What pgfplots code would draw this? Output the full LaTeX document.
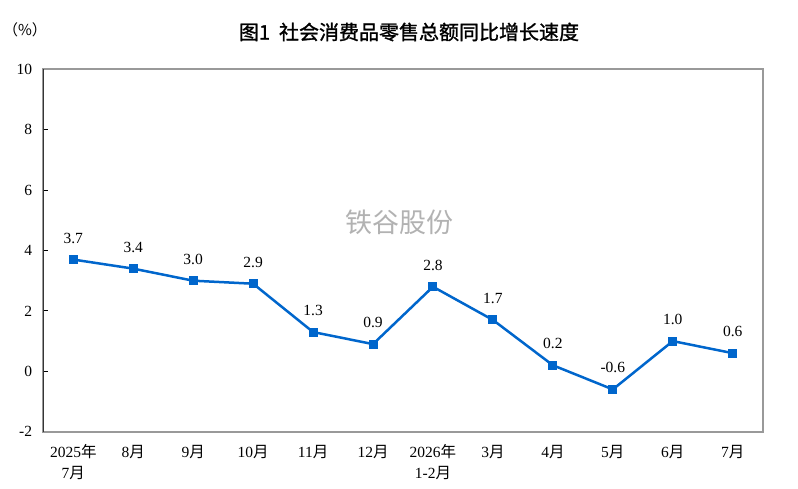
\documentclass[border=0pt]{standalone}
\usepackage{fontspec}
\setmainfont{Liberation Serif}
\newfontfamily\cjk{Noto Sans CJK SC}
\newfontfamily\cjktitle[FakeBold=1.3]{Noto Sans CJK SC}
\usepackage{pgfplots}
\pgfplotsset{compat=1.18}
\definecolor{lineblue}{HTML}{0066CC}
\definecolor{framegray}{HTML}{999999}
\newcommand\nian{{\cjk 年}}
\newcommand\yue{{\cjk 月}}
\begin{document}
\begin{tikzpicture}
\useasboundingbox (0,0) rectangle (798pt,489pt);
\begin{axis}[
  at={(43.3pt,57.3pt)}, anchor=south west,
  scale only axis, width=719.4pt, height=362.4pt,
  xmin=-0.5, xmax=11.5, ymin=-2, ymax=10,
  xtick={0,1,2,3,4,5,6,7,8,9,10,11},
  xticklabels={{2025\nian\\7\yue},{8\yue},{9\yue},{10\yue},{11\yue},{12\yue},{2026\nian\\1-2\yue},{3\yue},{4\yue},{5\yue},{6\yue},{7\yue}},
  ytick={-2,0,2,4,6,8,10},
  yticklabels={-2,0,2,4,6,8,10},
  xtick style={draw=none},
  ytick pos=left, tick align=inside, major tick length=5pt,
  ytick style={black, line width=1pt},
  axis line style={framegray, line width=1.8pt},
  xticklabel style={align=center, font=\fontsize{15.5}{21}\selectfont, inner sep=0pt, yshift=-13pt},
  yticklabel style={font=\fontsize{15.5}{18}\selectfont, inner sep=0pt, xshift=-11pt},
  nodes near coords,
  point meta=explicit symbolic,
  every node near coord/.style={anchor=base, inner sep=0pt, yshift=16.5pt, font=\fontsize{15.5}{18}\selectfont, black},
]
\addplot[color=lineblue, line width=2.5pt, mark=square*, mark size=4pt, mark options={solid, fill=lineblue, line width=0pt}]
coordinates {
(0,3.7) [3.7]
(1,3.4) [3.4]
(2,3.0) [3.0]
(3,2.9) [2.9]
(4,1.3) [1.3]
(5,0.9) [0.9]
(6,2.8) [2.8]
(7,1.7) [1.7]
(8,0.2) [0.2]
(9,-0.6) [-0.6]
(10,1.0) [1.0]
(11,0.6) [0.6]
};
\draw[black, line width=2pt] (rel axis cs:0,0) -- (rel axis cs:0,1);
\end{axis}
\node[font=\cjktitle\fontsize{20}{22}\selectfont] at (409pt,457pt) {图1\ \ 社会消费品零售总额同比增长速度};
\node[font=\cjk\fontsize{15}{17}\selectfont] at (25pt,459pt) {（\%）};
\node[font=\cjk\fontsize{27}{30}\selectfont, text=gray!60] at (399pt,267pt) {铁谷股份};
\end{tikzpicture}
\end{document}
